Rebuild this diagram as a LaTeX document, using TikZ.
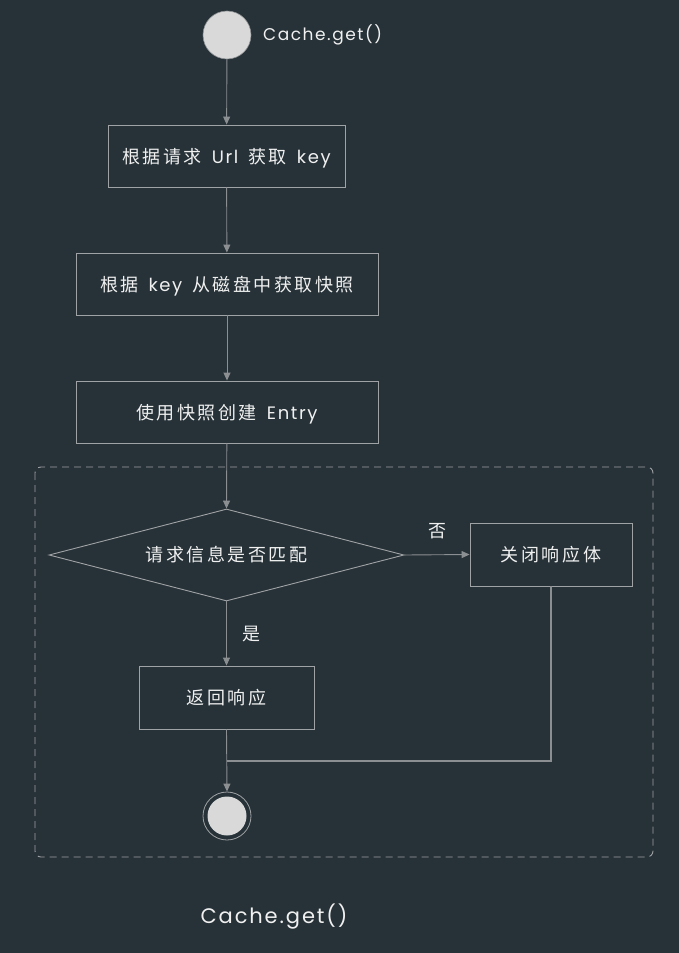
\documentclass[tikz,border=0pt]{standalone}
\usepackage{fontspec}
\setmainfont{Noto Sans CJK SC}[LetterSpace=14]
\newfontfamily\lat{Poppins}[LetterSpace=9]
\usetikzlibrary{arrows.meta,shapes.geometric}
\definecolor{bg}{HTML}{263238}
\definecolor{ln}{HTML}{8C8F91}
\definecolor{bx}{HTML}{A0A3A5}
\definecolor{tx}{HTML}{F0F0F0}
\definecolor{dot}{HTML}{D9D9D9}
\newcommand{\wsp}{\hspace{10pt}}
\begin{document}
\begin{tikzpicture}[x=1pt,y=-1pt,
  stepbox/.style={draw=bx,line width=0.9pt,text=tx,inner sep=0pt,text height=16.5pt,text depth=2pt,font=\fontsize{18}{21}\selectfont},
  conn/.style={draw=ln,line width=0.9pt},
  arr/.style={conn,-{Triangle[width=7pt,length=8pt]}},
  lbl/.style={text=tx,font=\fontsize{18}{21}\selectfont,inner sep=0pt}]
\fill[bg] (0,0) rectangle (679,953);
\useasboundingbox (0,0) rectangle (679,953);
% dashed group
\draw[bx,line width=0.9pt,dash pattern=on 7pt off 5pt,rounded corners=6pt] (35,467) rectangle (653,857);
% start
\node[circle,fill=dot,draw=ln,line width=0.6pt,minimum size=48pt,inner sep=0pt] (start) at (227,35) {};
\node[lbl,anchor=west,font=\fontsize{17}{21}\lat] (title) at (263,35) {Cache.get()};
% boxes
\node[stepbox,minimum width=237pt,minimum height=62pt] (b1) at (226.5,156) {根据请求\wsp{\lat Url}\wsp 获取\wsp{\lat key}};
\node[stepbox,minimum width=302pt,minimum height=62pt] (b2) at (227,284) {根据\wsp{\lat key}\wsp 从磁盘中获取快照};
\node[stepbox,minimum width=302pt,minimum height=62pt] (b3) at (227,412) {使用快照创建\wsp{\lat Entry}};
\node[diamond,draw=bx,line width=0.9pt,text=tx,inner sep=0pt,aspect=3.86,minimum width=355pt,minimum height=92pt,font=\fontsize{18}{21}\selectfont] (d) at (226.5,555) {请求信息是否匹配};
\node[stepbox,minimum width=162pt,minimum height=63pt] (close) at (551,554.5) {关闭响应体};
\node[stepbox,minimum width=175pt,minimum height=63pt] (ret) at (226.5,697.5) {返回响应};
% end
\node[circle,draw=bx,line width=0.8pt,minimum size=48pt,inner sep=0pt] (end) at (227,816) {};
\fill[dot] (end.center) circle (19.5pt);
% labels
\node[lbl] (no) at (437,531) {否};
\node[lbl] (yes) at (251,634) {是};
\node[lbl,font=\fontsize{21}{26}\lat] (caption) at (274,917) {Cache.get()};
% connectors
\draw[arr] (start) -- (b1);
\draw[arr] (b1) -- (b2);
\draw[arr] (b2) -- (b3);
\draw[arr] (b3) -- (d.north);
\draw[arr] (d.east) -- (close.west);
\draw[arr] (d.south) -- (ret.north);
\draw[arr] (ret.south) -- (end.north);
\coordinate (join) at (227,761);
\draw[conn,line width=1.4pt] (close.south) |- (join);
\end{tikzpicture}
\end{document}
